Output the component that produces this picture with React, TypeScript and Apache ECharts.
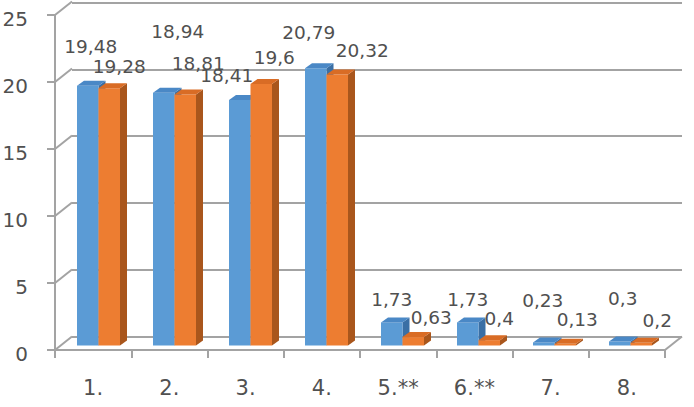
import React, { useEffect, useRef } from "react";
import * as echarts from "echarts";

const categories = ["1.", "2.", "3.", "4.", "5.**", "6.**", "7.", "8."];
const seriesBlue = [19.48, 18.94, 18.41, 20.79, 1.73, 1.73, 0.23, 0.3];
const seriesOrange = [19.28, 18.81, 19.6, 20.32, 0.63, 0.4, 0.13, 0.2];
const valueLabelsBlue = ["19,48", "18,94", "18,41", "20,79", "1,73", "1,73", "0,23", "0,3"];
const valueLabelsOrange = ["19,28", "18,81", "19,6", "20,32", "0,63", "0,4", "0,13", "0,2"];
const yTicks = [0, 5, 10, 15, 20, 25];

// label offsets (relative to the bar front-top centre)
const labelDxBlue = [3, 14, -13, -7, 0, 0, -1, 3];
const labelDyBlue = [-39, -61, -24, -36, -23, -23, -42, -43];
const labelDxOrange = [10, 13, 13, 25, 18, 10, 12, 16];
const labelDyOrange = [-22, -31, -27, -24, -20, -22, -24, -22];

const FONT = "DejaVu Sans";
const TEXT = "#505050";
const GRID = "#a3a3a3";
const DEPTH_X = 7;
const DEPTH_Y = -5;
const BAR_W = 21.5;
const WALL_DX = 17;
const WALL_DY = -13.5;

function barRenderer(side: number, front: string, top: string, dark: string, labels: string[], ldx: number[], ldy: number[]) {
  return (params: any, api: any) => {
    const idx = api.value(0);
    const val = api.value(1);
    const pTop = api.coord([idx, val]);
    const pBase = api.coord([idx, 0]);
    const x0 = side === 0 ? pTop[0] - BAR_W : pTop[0];
    const yT = pTop[1];
    const yB = pBase[1];
    const w = BAR_W;
    return {
      type: "group",
      children: [
        {
          type: "polygon",
          shape: { points: [[x0 + w, yT], [x0 + w + DEPTH_X, yT + DEPTH_Y], [x0 + w + DEPTH_X, yB + DEPTH_Y], [x0 + w, yB]] },
          style: { fill: dark },
        },
        {
          type: "rect",
          shape: { x: x0, y: yT, width: w, height: Math.max(yB - yT, 0) },
          style: { fill: front },
        },
        {
          type: "polygon",
          shape: { points: [[x0, yT], [x0 + w, yT], [x0 + w + DEPTH_X, yT + DEPTH_Y], [x0 + DEPTH_X, yT + DEPTH_Y]] },
          style: { fill: top },
        },
        {
          type: "text",
          x: x0 + w / 2 + ldx[idx],
          y: yT + ldy[idx],
          style: {
            text: labels[idx],
            fill: TEXT,
            font: `18.5px "${FONT}"`,
            align: "center",
            verticalAlign: "middle",
          },
          z2: 10,
        },
      ],
    };
  };
}

export default function App() {
  const ref = useRef<HTMLDivElement>(null);
  useEffect(() => {
    if (!ref.current) return;
    const chart = echarts.init(ref.current, undefined, { renderer: "svg" });
    chart.setOption({
      animation: false,
      backgroundColor: "#ffffff",
      grid: [
        { left: 72, right: 12, top: 2.5, bottom: 70.5 },
        { left: 55, right: 29, top: 15, bottom: 57 },
        { left: 60.5, right: 25.5, top: 12, bottom: 61.5 },
      ],
      xAxis: [
        { type: "category", gridIndex: 0, data: categories, show: false },
        {
          type: "category",
          gridIndex: 1,
          data: categories,
          boundaryGap: true,
          axisLine: { show: true, lineStyle: { color: GRID, width: 2 } },
          axisTick: { show: true, length: 8, alignWithLabel: false, lineStyle: { color: GRID, width: 2 } },
          axisLabel: { color: TEXT, fontFamily: FONT, fontSize: 21, margin: 27 },
          splitLine: { show: false },
        },
        { type: "category", gridIndex: 2, data: categories, show: false },
      ],
      yAxis: [
        {
          type: "value",
          gridIndex: 0,
          min: 0,
          max: 25,
          interval: 5,
          axisLine: { show: false },
          axisTick: { show: false },
          axisLabel: { show: false },
          splitLine: { show: true, lineStyle: { color: GRID, width: 2 } },
        },
        {
          type: "value",
          gridIndex: 1,
          min: 0,
          max: 25,
          interval: 5,
          axisLine: { show: true, lineStyle: { color: GRID, width: 2 } },
          axisTick: { show: true, length: 8, inside: false, lineStyle: { color: GRID, width: 2 } },
          axisLabel: { show: false },
          splitLine: { show: false },
        },
        { type: "value", gridIndex: 2, min: 0, max: 25, interval: 5, show: false, splitLine: { show: false } },
      ],
      series: [
        {
          type: "custom",
          name: "wall",
          xAxisIndex: 1,
          yAxisIndex: 1,
          data: yTicks.map((v) => [0, v]),
          silent: true,
          z: 1,
          renderItem: (params: any, api: any) => {
            const v = api.value(1);
            const p = api.coord([0, v]);
            const cs = params.coordSys;
            const children: any[] = [
              {
                type: "line",
                shape: { x1: cs.x, y1: p[1], x2: cs.x + WALL_DX, y2: p[1] + WALL_DY },
                style: { stroke: GRID, lineWidth: 2 },
              },
              {
                type: "text",
                x: cs.x - 27,
                y: p[1] + 4,
                style: {
                  text: String(v),
                  fill: TEXT,
                  font: `20px "${FONT}"`,
                  align: "right",
                  verticalAlign: "middle",
                },
              },
            ];
            if (v === 0) {
              children.push({
                type: "line",
                shape: { x1: cs.x + cs.width, y1: p[1], x2: cs.x + cs.width + WALL_DX, y2: p[1] + WALL_DY },
                style: { stroke: GRID, lineWidth: 2 },
              });
            }
            return { type: "group", children };
          },
        },
        {
          type: "custom",
          name: "A",
          xAxisIndex: 2,
          yAxisIndex: 2,
          z: 3,
          data: seriesBlue.map((v, i) => [i, v]),
          renderItem: barRenderer(0, "#5b9bd5", "#4a88c6", "#3a6fa5", valueLabelsBlue, labelDxBlue, labelDyBlue),
        },
        {
          type: "custom",
          name: "B",
          xAxisIndex: 2,
          yAxisIndex: 2,
          z: 4,
          data: seriesOrange.map((v, i) => [i, v]),
          renderItem: barRenderer(1, "#ed7d31", "#d96c25", "#a9561c", valueLabelsOrange, labelDxOrange, labelDyOrange),
        },
      ],
    });
    return () => chart.dispose();
  }, []);
  return <div ref={ref} style={{ width: 694, height: 407, position: "absolute", left: 0, top: 0 }} />;
}
